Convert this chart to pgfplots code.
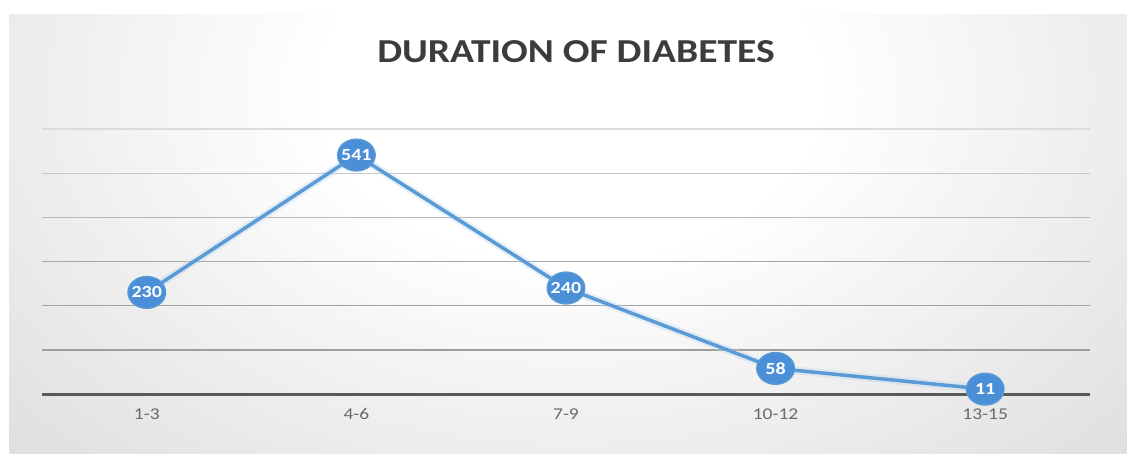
\documentclass[border=0pt]{standalone}
\usepackage{fontspec}
\setmainfont{Carlito}[FakeStretch=1.18]
\usepackage{pgfplots}
\pgfplotsset{compat=1.18}

\definecolor{linecol}{HTML}{5B9BD5}
\definecolor{markcol}{HTML}{4A8FD8}
\definecolor{titlecol}{HTML}{3C3C3C}
\definecolor{tickcol}{HTML}{6A6A6A}
\definecolor{axiscol}{HTML}{5A5A5A}

% soft white-to-grey backdrop, brightest behind the title
\pgfdeclareradialshading{chartbg}{\pgfpoint{0bp}{0bp}}{%
  color(0bp)=(white); color(10bp)=(white);
  color(32bp)=(black!13); color(50bp)=(black!24)}

\begin{document}
\begin{tikzpicture}
\path[use as bounding box] (0pt,0pt) rectangle (1127pt,-453pt);
\fill[white] (0pt,0pt) rectangle (1127pt,-453pt);
\begin{scope}
  \clip (9pt,-14pt) rectangle (1127pt,-453pt);
  \shade[shading=chartbg] (-50pt,330pt) rectangle (1190pt,-510pt);
\end{scope}

\node[text=titlecol, font=\bfseries\fontsize{33.5}{33.5}\selectfont, inner sep=0pt]
  at (576pt,-52pt) {DURATION OF DIABETES};

\begin{axis}[
  at={(42pt,-394pt)}, anchor=south west,
  scale only axis, width=1048pt, height=265pt,
  xmin=-0.5, xmax=4.5, ymin=0, ymax=600,
  axis line style={draw=none},
  ytick=\empty,
  xtick={0,1,2,3,4},
  xticklabels={1-3,4-6,7-9,10-12,13-15},
  major tick length=0pt,
  xticklabel style={font=\fontsize{16.5}{16.5}\selectfont, text=tickcol, yshift=-11pt},
  /pgf/number format/assume math mode=true,
  clip=false,
]
  % horizontal guide lines, every 100
  \draw[black!14, line width=1.3pt] (axis cs:-0.5,600) -- (axis cs:4.5,600);
  \draw[black!22, line width=1.3pt] (axis cs:-0.5,500) -- (axis cs:4.5,500);
  \draw[black!28, line width=1.4pt] (axis cs:-0.5,400) -- (axis cs:4.5,400);
  \draw[black!34, line width=1.5pt] (axis cs:-0.5,300) -- (axis cs:4.5,300);
  \draw[black!36, line width=1.5pt] (axis cs:-0.5,200) -- (axis cs:4.5,200);
  \draw[black!38, line width=1.5pt] (axis cs:-0.5,100) -- (axis cs:4.5,100);
  \draw[axiscol, line width=3pt] (axis cs:-0.5,0) -- (axis cs:4.5,0);

  % glow under the line
  \addplot[linecol!40, opacity=0.35, line width=8pt, no markers, forget plot]
    coordinates {(0,230) (1,541) (2,240) (3,58) (4,11)};

  \addplot[linecol, line width=3.5pt,
    mark=*, mark size=16pt,
    mark options={fill=markcol, draw=linecol, line width=1.2pt, xscale=1.18},
    nodes near coords,
    every node near coord/.append style={anchor=center, text=white,
      font=\bfseries\fontsize{17}{17}\selectfont}]
    coordinates {(0,230) (1,541) (2,240) (3,58) (4,11)};
\end{axis}
\end{tikzpicture}
\end{document}
